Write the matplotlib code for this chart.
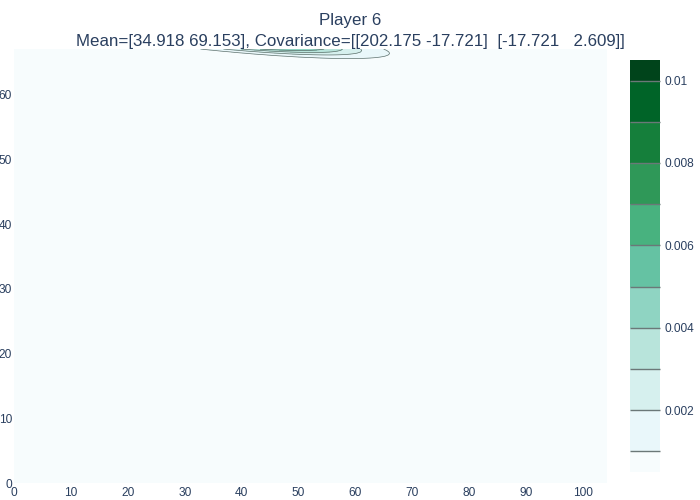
import numpy as np
import matplotlib
matplotlib.use("Agg")
import matplotlib.pyplot as plt
from matplotlib.colors import ListedColormap, BoundaryNorm

# Data (parameters of the plotted Gaussian density)
player = "Player 6"
mean = [34.918, 69.153]
cov = [[202.175, -17.721], [-17.721, 2.609]]
x_extent = [0, 104.2]
y_extent = [0, 67.1]
levels = [0.001, 0.002, 0.003, 0.004, 0.005, 0.006, 0.007, 0.008, 0.009, 0.01]
xticks = [0, 10, 20, 30, 40, 50, 60, 70, 80, 90, 100]
yticks = [0, 10, 20, 30, 40, 50, 60]
cbar_ticks = [0.002, 0.004, 0.006, 0.008, 0.01]

plt.rcParams['font.family'] = ['Liberation Sans', 'DejaVu Sans']
TXT = '#2a3f5f'

xs = np.linspace(x_extent[0], x_extent[1], 420)
ys = np.linspace(y_extent[0], y_extent[1], 300)
X, Y = np.meshgrid(xs, ys)
m = np.array(mean)
C = np.array(cov)
Ci = np.linalg.inv(C)
dx = X - m[0]
dy = Y - m[1]
q = Ci[0, 0] * dx**2 + 2 * Ci[0, 1] * dx * dy + Ci[1, 1] * dy**2
Z = np.exp(-0.5 * q) / (2 * np.pi * np.sqrt(np.linalg.det(C)))

step = levels[1] - levels[0]
bounds = [levels[0] - step / 2] + levels + [levels[-1] + step / 2]
nb = len(bounds) - 1
base = plt.get_cmap('BuGn')
cols = [base(i / (nb - 1)) for i in range(nb)]
cmap = ListedColormap(cols)
norm = BoundaryNorm(bounds, nb)

fig = plt.figure(figsize=(7, 5), dpi=100)
ax = fig.add_axes([14 / 700, 1 - 483 / 500, (607 - 14) / 700, (483 - 49) / 500])
fill_levels = [-1] + levels + [1]
ax.contourf(X, Y, Z, levels=fill_levels, colors=cols)
ax.contour(X, Y, Z, levels=levels, colors='#5f706c', linewidths=0.5)
ax.set_xlim(x_extent)
ax.set_ylim(y_extent)
ax.set_xticks(xticks)
ax.set_yticks(yticks)
ax.tick_params(length=0, labelsize=8.6, colors=TXT)
ax.tick_params(axis='x', pad=3)
ax.tick_params(axis='y', pad=1.5)
for s in ax.spines.values():
    s.set_visible(False)

cax = fig.add_axes([630 / 700, 1 - 472 / 500, 30 / 700, 412 / 500])
sm = matplotlib.cm.ScalarMappable(norm=norm, cmap=cmap)
cb = fig.colorbar(sm, cax=cax, boundaries=bounds, ticks=cbar_ticks,
                  drawedges=True, spacing='proportional')
cb.dividers.set_color('#6b7878')
cb.dividers.set_linewidth(1.0)
cb.outline.set_visible(False)
cb.ax.minorticks_off()
cb.ax.tick_params(length=0, labelsize=8.6, colors=TXT, pad=3)
cb.ax.set_yticks(cbar_ticks)
cb.ax.set_yticklabels(['0.002', '0.004', '0.006', '0.008', '0.01'])

title = f"{player}\nMean=[{mean[0]:.3f} {mean[1]:.3f}], Covariance=[[{cov[0][0]:.3f} {cov[0][1]:.3f}]  [{cov[1][0]:.3f}   {cov[1][1]:.3f}]]"
fig.text(0.5, 1 - 13 / 500, title, ha='center', va='top', fontsize=12.2, color=TXT, linespacing=1.5)

fig.savefig('out.png', dpi=100)
